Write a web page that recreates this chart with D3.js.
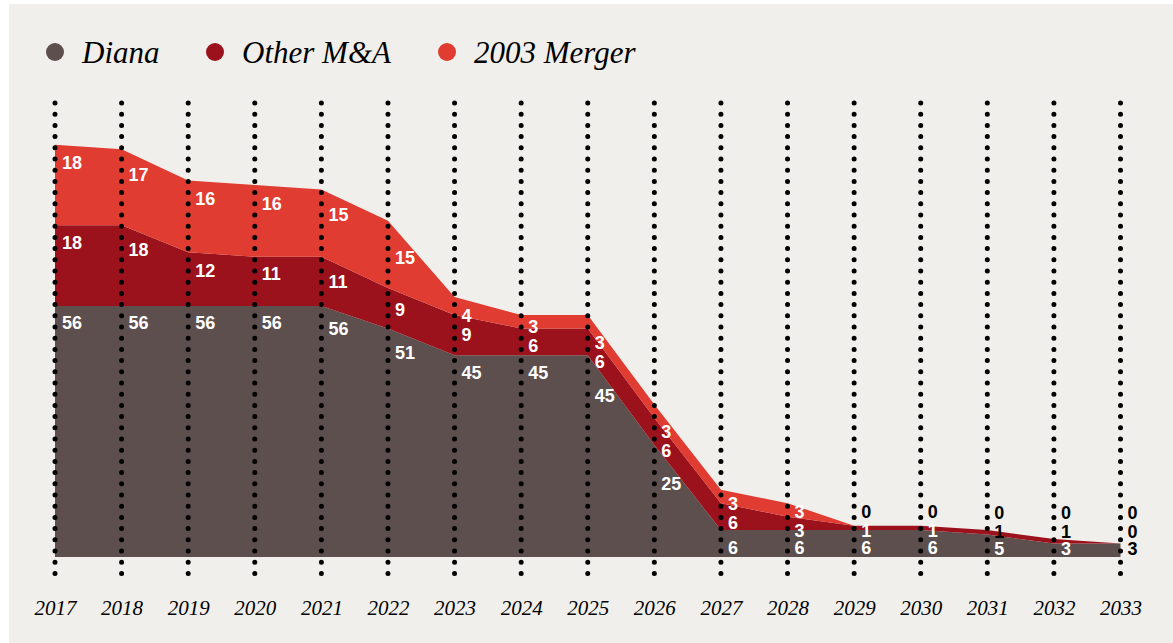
<!DOCTYPE html>
<html>
<head>
<meta charset="utf-8">
<script src="https://cdn.jsdelivr.net/npm/d3@7"></script>
<style>
  html, body { margin: 0; padding: 0; background: #ffffff; }
  svg { display: block; }
</style>
</head>
<body>
<div id="chart"></div>
<script>
const years = [2017, 2018, 2019, 2020, 2021, 2022, 2023, 2024, 2025, 2026, 2027, 2028, 2029, 2030, 2031, 2032, 2033];
const diana = [56, 56, 56, 56, 56, 51, 45, 45, 45, 25, 6, 6, 6, 6, 5, 3, 3];
const otherMA = [18, 18, 12, 11, 11, 9, 9, 6, 6, 6, 6, 3, 1, 1, 1, 1, 0];
const merger2003 = [18, 17, 16, 16, 15, 15, 4, 3, 3, 3, 3, 3, 0, 0, 0, 0, 0];

const seriesNames = ["Diana", "Other M&A", "2003 Merger"];
const seriesColors = ["#5c4f4d", "#9b111c", "#e03c31"];

const width = 1173;
const height = 643;
const baseY = 557;

const rows = years.map((y, i) => ({
  year: y,
  "Diana": diana[i],
  "Other M&A": otherMA[i],
  "2003 Merger": merger2003[i],
}));

const svg = d3
  .select("#chart")
  .append("svg")
  .attr("width", width)
  .attr("height", height);

svg
  .append("rect")
  .attr("x", 9)
  .attr("y", 4)
  .attr("width", width - 9)
  .attr("height", height - 4)
  .attr("fill", "#f0efeb");

const x = d3.scaleLinear().domain([2017, 2033]).range([55, 1120.5]);
const y = d3.scaleLinear().domain([0, 56]).range([baseY, 306]);

const stacked = d3.stack().keys(seriesNames)(rows);

const area = d3
  .area()
  .x((d) => x(d.data.year))
  .y0((d) => y(d[0]))
  .y1((d) => y(d[1]));

svg
  .append("g")
  .selectAll("path")
  .data(stacked)
  .join("path")
  .attr("fill", (d, i) => seriesColors[i])
  .attr("d", area);

// dotted year lines
svg
  .append("g")
  .selectAll("line")
  .data(years)
  .join("line")
  .attr("x1", (d) => x(d))
  .attr("x2", (d) => x(d))
  .attr("y1", 103)
  .attr("y2", 574)
  .attr("stroke", "#000")
  .attr("stroke-width", 5)
  .attr("stroke-linecap", "round")
  .attr("stroke-dasharray", "0 11.2");

// top of a layer at a pixel x (linear between points)
const topAt = (layer, px) => {
  const t = x.invert(px);
  if (t > 2033 || t < 2017) return baseY;
  const i = Math.min(Math.floor(t - 2017), years.length - 2);
  const f = t - 2017 - i;
  const a = y(stacked[layer][i][1]);
  const b = y(stacked[layer][i + 1][1]);
  return a + (b - a) * f;
};

const labelFont = "bold 18px 'Liberation Sans', Arial, sans-serif";
const ctx = document.createElement("canvas").getContext("2d");
ctx.font = labelFont;

const labels = [];
years.forEach((yr, i) => {
  const x0 = x(yr) + 7;
  let prevY = null;
  const gaps = [0, 17, 19];
  stacked.forEach((layer, li) => {
    const txt = String(layer[i].data[seriesNames[li]]);
    const w = ctx.measureText(txt).width;
    const cx = x0 + w / 2;
    let cy = topAt(li, cx) + 17;
    if (li === 0) cy = Math.min(cy, 549);
    if (prevY !== null) cy = Math.min(cy, prevY - gaps[li]);
    prevY = cy;
    const inside = cy > topAt(2, cx) + 3;
    labels.push({ x: x0, y: cy, text: txt, color: inside ? "#fff" : "#000" });
  });
});

svg
  .append("g")
  .selectAll("text")
  .data(labels)
  .join("text")
  .attr("x", (d) => d.x)
  .attr("y", (d) => d.y)
  .attr("dy", "0.36em")
  .style("font", labelFont)
  .attr("fill", (d) => d.color)
  .text((d) => d.text);

// x axis
const xAxis = svg
  .append("g")
  .attr("transform", `translate(0, 600)`)
  .call(
    d3
      .axisBottom(x)
      .tickValues(years)
      .tickFormat(d3.format("d"))
      .tickSize(0)
      .tickPadding(0)
  );
xAxis.select(".domain").remove();
xAxis
  .selectAll("text")
  .attr("fill", "#000")
  .style("font", "italic 21px 'Liberation Serif', 'Times New Roman', serif");

// legend
const legendX = [55, 215, 447];
const legend = svg
  .append("g")
  .selectAll("g")
  .data(seriesNames)
  .join("g")
  .attr("transform", (d, i) => `translate(${legendX[i]}, 52)`);

legend
  .append("circle")
  .attr("r", 9)
  .attr("fill", (d, i) => seriesColors[i]);

legend
  .append("text")
  .attr("x", 27)
  .attr("y", 11)
  .attr("fill", "#000")
  .style("font", "italic 31px 'Liberation Serif', 'Times New Roman', serif")
  .text((d) => d);
</script>
</body>
</html>
